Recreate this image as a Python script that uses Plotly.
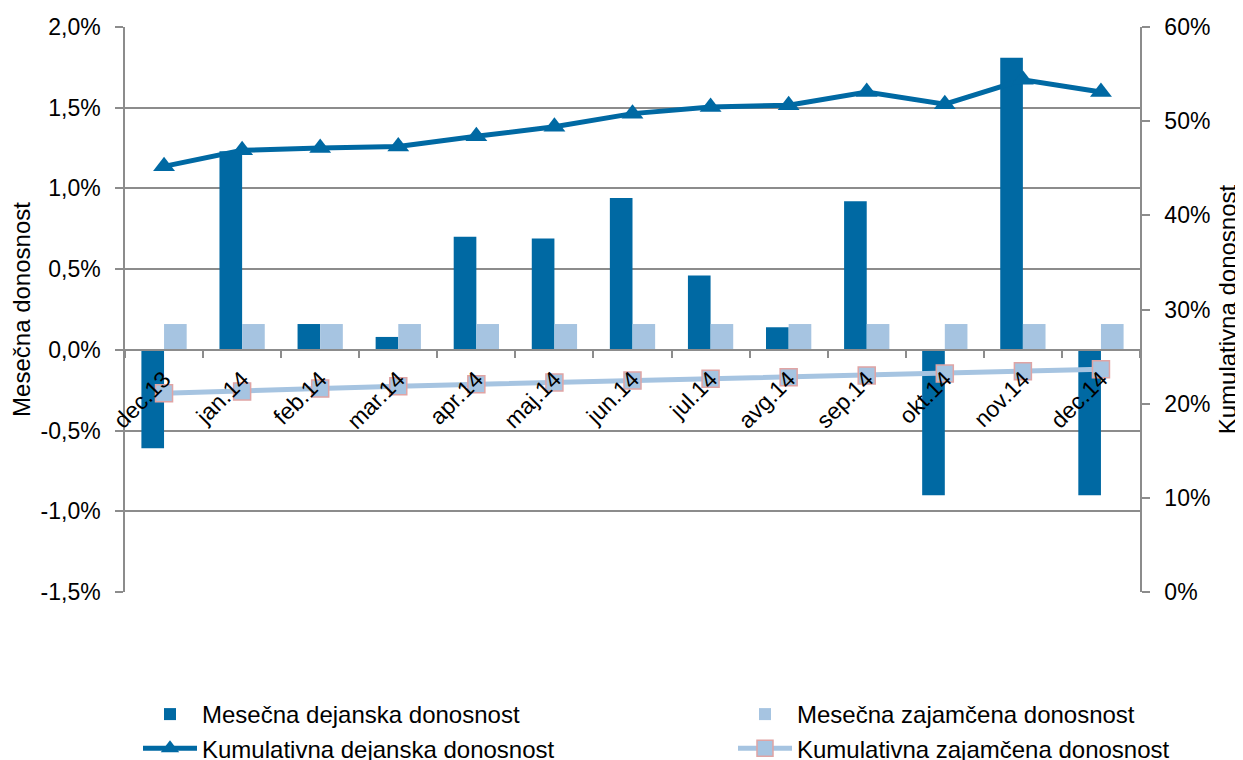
import plotly.graph_objects as go

categories = ["dec.13", "jan.14", "feb.14", "mar.14", "apr.14", "maj.14", "jun.14",
              "jul.14", "avg.14", "sep.14", "okt.14", "nov.14", "dec.14"]
# monthly returns (%), left axis
mesecna_dejanska = [-0.61, 1.23, 0.16, 0.08, 0.70, 0.69, 0.94, 0.46, 0.14, 0.92, -0.90, 1.81, -0.90]
mesecna_zajamcena = [0.16, 0.16, 0.16, 0.16, 0.16, 0.16, 0.16, 0.16, 0.16, 0.16, 0.16, 0.16, 0.16]
# cumulative returns (%), right axis
kumulativna_dejanska = [45.2, 46.9, 47.15, 47.3, 48.4, 49.4, 50.8, 51.5, 51.7, 53.1, 51.8, 54.4, 53.1]
kumulativna_zajamcena = [21.1, 21.3, 21.6, 21.85, 22.05, 22.25, 22.45, 22.65, 22.8, 23.0, 23.2, 23.45, 23.65]

left_ticks = [-1.5, -1.0, -0.5, 0.0, 0.5, 1.0, 1.5, 2.0]
left_ticktext = ["-1,5%", "-1,0%", "-0,5%", "0,0%", "0,5%", "1,0%", "1,5%", "2,0%"]
right_ticks = [0, 10, 20, 30, 40, 50, 60]
right_ticktext = ["0%", "10%", "20%", "30%", "40%", "50%", "60%"]

DARK = "#0069A3"
LIGHT = "#A6C4E1"
GRID = "#8C8C8C"
FONT = "Liberation Sans, Arial, sans-serif"

fig = go.Figure()
fig.add_trace(go.Bar(x=categories, y=mesecna_dejanska, name="Mesečna dejanska donosnost",
                     marker=dict(color=DARK, line=dict(width=0)), legend="legend"))
fig.add_trace(go.Bar(x=categories, y=mesecna_zajamcena, name="Mesečna zajamčena donosnost",
                     marker=dict(color=LIGHT, line=dict(width=0)), legend="legend2"))
fig.add_trace(go.Scatter(x=categories, y=kumulativna_dejanska, name="Kumulativna dejanska donosnost",
                         yaxis="y2", mode="lines+markers",
                         line=dict(color=DARK, width=5),
                         marker=dict(symbol="triangle-up", size=19, color=DARK),
                         legend="legend"))
fig.add_trace(go.Scatter(x=categories, y=kumulativna_zajamcena, name="Kumulativna zajamčena donosnost",
                         yaxis="y2", mode="lines+markers",
                         line=dict(color=LIGHT, width=5),
                         marker=dict(symbol="square", size=17, color=LIGHT,
                                     line=dict(color="#E0A4A4", width=1.5)),
                         legend="legend2"))

zero_pos = (0 - left_ticks[0]) / (left_ticks[-1] - left_ticks[0])

legend_common = dict(orientation="v", xanchor="left", yanchor="top", itemwidth=54,
                     font=dict(size=24), bgcolor="rgba(0,0,0,0)", tracegroupgap=0)

# the page body has an 8px margin, so the figure is 8px smaller and margins compensate
fig.update_layout(
    width=1235, height=752,
    margin=dict(l=117, r=103, t=19, b=168, autoexpand=False),
    paper_bgcolor="white", plot_bgcolor="white",
    font=dict(family=FONT, size=23, color="#000000"),
    barmode="group", bargap=0.42, bargroupgap=0,
    showlegend=True,
    xaxis=dict(
        type="category", categoryorder="array", categoryarray=categories,
        range=[-0.5, len(categories) - 0.5],
        anchor="free", position=zero_pos, automargin=False,
        showline=True, linecolor=GRID, linewidth=1.5,
        ticks="outside", tickson="boundaries", ticklen=7, tickcolor=GRID, tickwidth=1.5,
        tickangle=-45, showgrid=False, zeroline=False, ticklabelstandoff=6,
        tickfont=dict(size=23),
    ),
    yaxis=dict(
        range=[left_ticks[0], left_ticks[-1]], tickvals=left_ticks, ticktext=left_ticktext,
        automargin=False,
        showgrid=True, gridcolor=GRID, gridwidth=1.5, zeroline=False,
        showline=True, linecolor=GRID, linewidth=1.5,
        ticks="outside", ticklen=8, tickcolor=GRID, tickwidth=1.5, ticklabelstandoff=10,
        title=dict(text="Mesečna donosnost", font=dict(size=24), standoff=8),
        tickfont=dict(size=23),
    ),
    yaxis2=dict(
        range=[right_ticks[0], right_ticks[-1]], tickvals=right_ticks, ticktext=right_ticktext,
        overlaying="y", side="right", showgrid=False, zeroline=False, automargin=False,
        showline=True, linecolor=GRID, linewidth=1.5,
        ticks="outside", ticklen=8, tickcolor=GRID, tickwidth=1.5, ticklabelstandoff=10,
        title=dict(text="Kumulativna donosnost", font=dict(size=24), standoff=10),
        tickfont=dict(size=23),
    ),
    legend=dict(x=(138 - 125) / 1015, y=(592 - 692) / 565, **legend_common),
    legend2=dict(x=(733 - 125) / 1015, y=(592 - 692) / 565, **legend_common),
)

fig.write_html("out.html")
